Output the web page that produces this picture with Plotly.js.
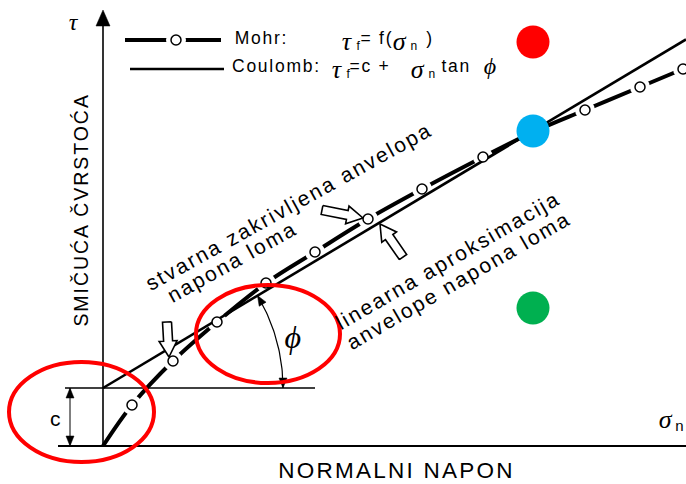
<!DOCTYPE html>
<html><head><meta charset="utf-8">
<script src="https://cdn.plot.ly/plotly-3.0.1.min.js"></script>
<style>
html,body{margin:0;padding:0;background:#fff;}
#chart text{letter-spacing:0.1em;}
</style></head>
<body><div id="chart" style="width:686px;height:484px;"></div>
<script>
// ---- data (σn, τf) in diagram units ----
const mohrSigma = [0, 29, 70, 114, 163, 212, 265, 319, 380, 430, 482, 537, 580];
const mohrTau   = [0, 41, 85, 124, 163, 194, 227, 257, 289, 314, 336, 359, 377];
const coulombC = 58;
const coulombTanPhi = 0.598;
const coulombSigma = [0, 583];

// axes / construction geometry
const xAxisX = [-45, 583];
const yAxisY = [-1, 424];
const yAxisTip = [0, 436];
const cLineX = [-38, 212];
const cDimX = -33;
const arcRadius = 180;

// legend samples
const legendMohrX = [22, 118], legendMohrY = 406, legendMohrCircle = 73;
const legendCoulX = [27, 121], legendCoulY = 377;

// hollow block arrows [tail, tip]
const blockArrows = [
  [[219, 236], [260, 228]],
  [[300, 189], [277, 222]],
  [[64, 124], [66, 89]]
];

// coloured dots
const dotX = [430, 430, 430];
const dotY = [404, 315, 138];
const dotColors = ['#ff0000', '#00b0f0', '#00b050'];

// red ellipses [x0, y0, x1, y1]
const ellipses = [[-94, -16, 51, 84], [93, 63, 237, 161]];

const SANS = 'Liberation Sans, Arial, sans-serif';
const SERIF = 'Liberation Serif, Times New Roman, serif';

function headPoly(tip, dir, len, hw) {
  const bx = tip[0] - dir[0] * len, by = tip[1] - dir[1] * len;
  const nx = -dir[1], ny = dir[0];
  return {x: [tip[0], bx + nx * hw, bx - nx * hw, tip[0]],
          y: [tip[1], by + ny * hw, by - ny * hw, tip[1]]};
}
function blockPoly(tail, tip, sw, hw, hl) {
  const dx = tip[0] - tail[0], dy = tip[1] - tail[1];
  const L = Math.hypot(dx, dy), ux = dx / L, uy = dy / L, nx = -uy, ny = ux;
  const bx = tip[0] - ux * hl, by = tip[1] - uy * hl;
  const pts = [
    [tail[0] + nx * sw, tail[1] + ny * sw],
    [bx + nx * sw, by + ny * sw],
    [bx + nx * hw, by + ny * hw],
    [tip[0], tip[1]],
    [bx - nx * hw, by - ny * hw],
    [bx - nx * sw, by - ny * sw],
    [tail[0] - nx * sw, tail[1] - ny * sw],
    [tail[0] + nx * sw, tail[1] + ny * sw]
  ];
  return {x: pts.map(p => p[0]), y: pts.map(p => p[1])};
}
function fillTrace(poly, fill, lineW) {
  return {x: poly.x, y: poly.y, mode: 'lines', fill: 'toself', fillcolor: fill,
          line: {color: '#000', width: lineW}, showlegend: false, hoverinfo: 'skip'};
}
function lineTrace(x, y, w, extra) {
  return Object.assign({x: x, y: y, mode: 'lines', line: {color: '#000', width: w},
          showlegend: false, hoverinfo: 'skip'}, extra || {});
}

const traces = [];
// axes
traces.push(lineTrace([0, 0], yAxisY, 1.6));
traces.push(fillTrace(headPoly(yAxisTip, [0, 1], 16, 7), '#000', 0.5));
traces.push(lineTrace(xAxisX, [0, 0], 2));
traces.push(lineTrace(cLineX, [coulombC, coulombC], 1.6));
// c dimension
traces.push(lineTrace([cDimX, cDimX], [0, coulombC], 1));
traces.push(fillTrace(headPoly([cDimX, coulombC], [0, 1], 10, 4), '#000', 0.5));
traces.push(fillTrace(headPoly([cDimX, 0], [0, -1], 10, 4), '#000', 0.5));
// phi arc
const phi = Math.atan(coulombTanPhi);
const arcX = [], arcY = [];
for (let i = 0; i <= 40; i++) {
  const a = phi * i / 40;
  arcX.push(arcRadius * Math.cos(a));
  arcY.push(coulombC + arcRadius * Math.sin(a));
}
traces.push(lineTrace(arcX, arcY, 1.2));
traces.push(fillTrace(headPoly([arcRadius, coulombC], [0, -1], 10, 4), '#000', 0.5));
traces.push(fillTrace(headPoly([arcRadius * Math.cos(phi), coulombC + arcRadius * Math.sin(phi)],
  [-Math.sin(phi), Math.cos(phi)], 10, 4), '#000', 0.5));
// Mohr curve
traces.push(lineTrace(mohrSigma, mohrTau, 4, {line: {color: '#000', width: 4, shape: 'spline'}}));
traces.push(lineTrace(legendMohrX, [legendMohrY, legendMohrY], 4));
// halos (gaps around circles)
const circX = mohrSigma.slice(1).concat([legendMohrCircle]);
const circY = mohrTau.slice(1).concat([legendMohrY]);
traces.push({x: circX, y: circY, mode: 'markers', marker: {size: 20, color: '#fff'},
  showlegend: false, hoverinfo: 'skip'});
// Coulomb line
const coulombTau = coulombSigma.map(s => coulombC + s * coulombTanPhi);
traces.push(lineTrace(coulombSigma, coulombTau, 2.6));
traces.push(lineTrace(legendCoulX, [legendCoulY, legendCoulY], 2.6));
// circles
traces.push({x: circX, y: circY, mode: 'markers',
  marker: {size: 10, color: '#fff', line: {color: '#000', width: 1.5}},
  showlegend: false, hoverinfo: 'skip'});
// hollow arrows
blockArrows.forEach(a => traces.push(fillTrace(blockPoly(a[0], a[1], 4.5, 9, 16), '#fff', 1.6)));
// dots
traces.push({x: dotX, y: dotY, mode: 'markers', marker: {size: 33, color: dotColors},
  showlegend: false, hoverinfo: 'skip'});

function ann(x, y, text, size, opts) {
  return Object.assign({x: x, y: y, xref: 'x', yref: 'y', text: text, showarrow: false,
    font: {family: SANS, size: size, color: '#000'}, xanchor: 'center', yanchor: 'middle'}, opts || {});
}
function greek(x, y, t, size) {
  return ann(x, y, t, size, {font: {family: SERIF, size: size, color: '#000', style: 'italic'}});
}
const L = {xanchor: 'left'};

const annotations = [
  greek(-28, 424, 'τ', 24),
  greek(564, 27, 'σ', 26),
  ann(571, 21, 'n', 15, L),
  greek(191, 109, 'ϕ', 32),
  // legend row 1
  ann(134, 408, 'Mohr:', 17.5, L),
  greek(245, 405, 'τ', 26),
  ann(252, 400, 'f', 12, L),
  ann(259, 408, '= f(', 17.5, L),
  greek(298, 405, 'σ', 26),
  ann(306, 400, 'n', 12, L),
  ann(322, 408, ')', 17.5, L),
  // legend row 2
  ann(134, 380, 'Coulomb:', 17.5, L),
  greek(235, 377, 'τ', 26),
  ann(242, 372, 'f', 12, L),
  ann(248, 380, '=c +', 17.5, L),
  greek(316, 377, 'σ', 26),
  ann(324, 372, 'n', 12, L),
  ann(339, 380, 'tan', 17.5, L),
  greek(388, 380, 'ϕ', 24),
  // rotated labels
  ann(185, 240, 'stvarna zakrivljena anvelopa', 21, {textangle: -29}),
  ann(129, 185, 'napona loma', 21, {textangle: -29}),
  ann(344, 186, 'linearna aproksimacija', 21, {textangle: -30}),
  ann(355, 166, 'anvelope napona loma', 21, {textangle: -30}),
  ann(-22, 236, 'SMIČUĆA ČVRSTOĆA', 19.5, {textangle: -90}),
  ann(293, -24, 'NORMALNI NAPON', 22.5),
  ann(-47, 28, 'c', 21)
];

const shapes = ellipses.map(e => ({type: 'circle', xref: 'x', yref: 'y',
  x0: e[0], y0: e[1], x1: e[2], y1: e[3], line: {color: '#ff0000', width: 4}, layer: 'above'}));

const layout = {
  width: 686, height: 484,
  margin: {l: 0, r: 0, t: 0, b: 0},
  paper_bgcolor: '#fff', plot_bgcolor: '#fff',
  xaxis: {range: [-103, 583], visible: false, fixedrange: true},
  yaxis: {range: [-38, 446], visible: false, fixedrange: true},
  showlegend: false, hovermode: false,
  annotations: annotations, shapes: shapes
};
Plotly.newPlot('chart', traces, layout, {staticPlot: true, displayModeBar: false});
</script></body></html>
